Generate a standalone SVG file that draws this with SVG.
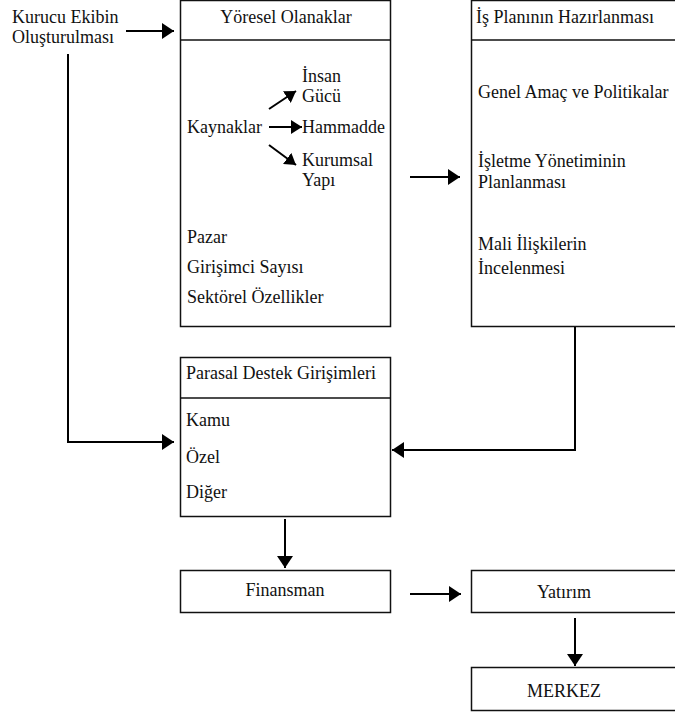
<svg xmlns="http://www.w3.org/2000/svg" width="675" height="715" viewBox="0 0 675 715">
<style>
.box{fill:#fff;stroke:#111;stroke-width:1.5}
.c{fill:none;stroke:#000;stroke-width:2}
.m{text-anchor:middle}
</style>
<defs>
<marker id="ah" markerWidth="12" markerHeight="16" refX="12" refY="8" orient="auto" markerUnits="userSpaceOnUse">
<path d="M0,0 L12,8 L0,16 Z" fill="#000"/>
</marker>
<marker id="ahs" markerWidth="11" markerHeight="14" refX="11" refY="7" orient="auto" markerUnits="userSpaceOnUse">
<path d="M0,0 L11,7 L0,14 Z" fill="#000"/>
</marker>
</defs>
<rect width="675" height="715" fill="#fff"/>
<g font-family="Liberation Serif, serif" font-size="18" fill="#111">
<g id="kurucu">
<text x="12" y="23">Kurucu Ekibin</text>
<text x="12" y="43">Oluşturulması</text>
</g>

<g id="yoresel">
<rect class="box" x="180.5" y="0.5" width="210" height="326"/>
<line class="box" x1="180.5" y1="40" x2="390.5" y2="40"/>
<text class="m" x="286" y="23">Yöresel Olanaklar</text>
<text x="302" y="82">İnsan</text>
<text x="302" y="102">Gücü</text>
<text x="187" y="133">Kaynaklar</text>
<text x="302" y="133">Hammadde</text>
<text x="302" y="166">Kurumsal</text>
<text x="302" y="186">Yapı</text>
<text x="187" y="243">Pazar</text>
<text x="187" y="273">Girişimci Sayısı</text>
<text x="187" y="303">Sektörel Özellikler</text>
<line class="c" x1="269" y1="109" x2="296" y2="91" marker-end="url(#ahs)"/>
<line class="c" x1="269" y1="127" x2="302" y2="127" marker-end="url(#ahs)"/>
<line class="c" x1="269" y1="145" x2="296" y2="165" marker-end="url(#ahs)"/>
</g>

<g id="isplani">
<rect class="box" x="471.5" y="0.5" width="215" height="326"/>
<line class="box" x1="471.5" y1="40" x2="686" y2="40"/>
<text x="476" y="23">İş Planının Hazırlanması</text>
<text x="478" y="98">Genel Amaç ve Politikalar</text>
<text x="478" y="167">İşletme Yönetiminin</text>
<text x="478" y="188">Planlanması</text>
<text x="478" y="250">Mali İlişkilerin</text>
<text x="478" y="274">İncelenmesi</text>
</g>

<g id="parasal">
<rect class="box" x="180.5" y="357.5" width="210" height="159"/>
<line class="box" x1="180.5" y1="398" x2="390.5" y2="398"/>
<text x="186" y="379">Parasal Destek Girişimleri</text>
<text x="186" y="426">Kamu</text>
<text x="186" y="463">Özel</text>
<text x="186" y="498">Diğer</text>
</g>

<g id="finansman">
<rect class="box" x="180.5" y="570.5" width="210" height="42"/>
<text class="m" x="285" y="596">Finansman</text>
</g>

<g id="yatirim">
<rect class="box" x="471.5" y="570.5" width="215" height="42"/>
<text class="m" x="564" y="598">Yatırım</text>
</g>

<g id="merkez">
<rect class="box" x="471.5" y="667.5" width="215" height="43"/>
<text class="m" x="564" y="697">MERKEZ</text>
</g>
</g>
<g id="connectors">
<line class="c" x1="126" y1="31" x2="174" y2="31" marker-end="url(#ah)"/>
<polyline class="c" points="68,54 68,442 174,442" marker-end="url(#ah)"/>
<line class="c" x1="410" y1="177" x2="460" y2="177" marker-end="url(#ah)"/>
<polyline class="c" points="575,327 575,450 392,450" marker-end="url(#ah)"/>
<line class="c" x1="285" y1="519" x2="285" y2="568" marker-end="url(#ah)"/>
<line class="c" x1="410" y1="594" x2="461" y2="594" marker-end="url(#ah)"/>
<line class="c" x1="575" y1="618" x2="575" y2="666" marker-end="url(#ah)"/>
</g>
</svg>
